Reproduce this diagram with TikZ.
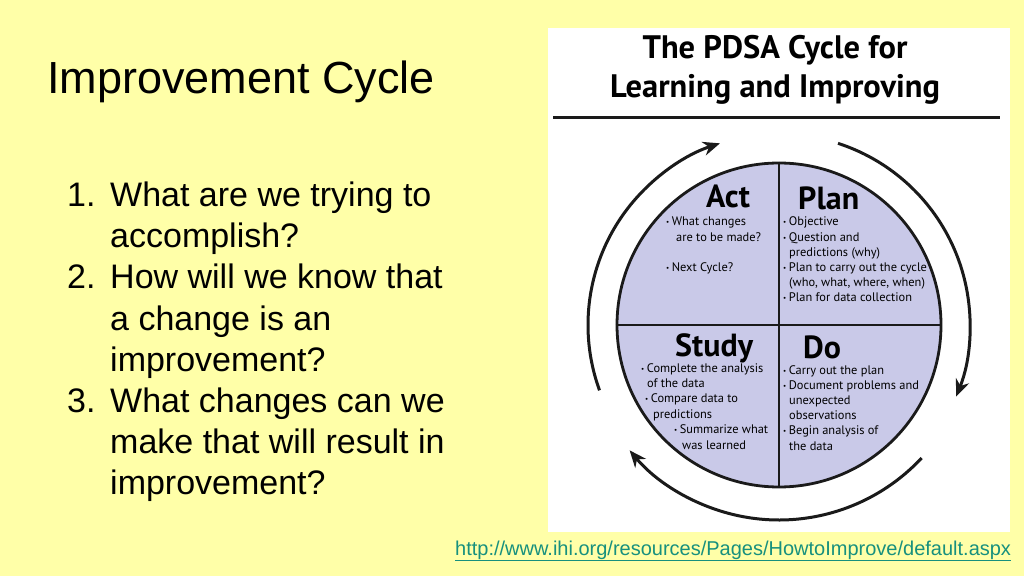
\documentclass[tikz,border=0pt]{standalone}
\usepackage{fontspec}
\setmainfont{Liberation Sans}
\newfontfamily\pdsafont{PT Sans}
\usetikzlibrary{arrows.meta}

\definecolor{slideyellow}{HTML}{FFFFA8}
\definecolor{wheelfill}{HTML}{C9C9E8}
\definecolor{linkteal}{HTML}{17907E}
\definecolor{inkdark}{HTML}{1A1A1A}

\newcommand{\pdsabullet}{\raisebox{1pt}{\fontsize{7}{7}\selectfont\textbullet}\hspace{2.5pt}}

\tikzset{
  listtext/.style={anchor=base west, inner sep=0pt, font=\fontsize{34}{41}\selectfont},
  pdsatitle/.style={anchor=base, inner sep=0pt, font={\pdsafont\bfseries\fontsize{32.5}{36}\selectfont}},
  pdsahead/.style={anchor=base west, inner sep=0pt, font={\pdsafont\bfseries\fontsize{32}{36}\selectfont}},
  pdsatext/.style={anchor=base west, inner sep=0pt, font={\pdsafont\fontsize{12.4}{15}\selectfont}},
  cyclearrow/.style={->, line width=3pt, draw=inkdark},
}

\begin{document}
\begin{tikzpicture}[x=1pt,y=1pt,>={Stealth[length=17pt,width=14pt]}]

% slide background and white picture frame
\fill[slideyellow] (0,0) rectangle (1024,576);
\useasboundingbox (0,0) rectangle (1024,576);
\fill[white] (548,44) rectangle (1010,548);

% slide title
\node[anchor=base west, inner sep=0pt, font=\fontsize{45}{54}\selectfont] (title) at (47,482) {Improvement Cycle};

% the three questions
\foreach \txt [count=\i] in {What are we trying to, accomplish?, How will we know that,
    a change is an, improvement?, What changes can we, make that will result in, improvement?}
  \node[listtext] (line\i) at (110,{369-41*(\i-1)}) {\txt};
\node[listtext] (num1) at (67,369) {1.};
\node[listtext] (num2) at (67,287) {2.};
\node[listtext] (num3) at (67,164) {3.};

% source link
\node[anchor=base west, inner sep=0pt, font=\fontsize{20}{24}\selectfont, text=linkteal] (url) at (455,21)
  {\underline{http://www.ihi.org/resources/Pages/HowtoImprove/default.aspx}};

% picture header
\node[pdsatitle] (head1) at (775,517) {The PDSA Cycle for};
\node[pdsatitle] (head2) at (775,478) {Learning and Improving};
\draw[line width=3pt, inkdark] (553,458) -- (1000,458);

% the wheel and its quarters
\node[circle, draw=inkdark, line width=2.8pt, fill=wheelfill, minimum size=324pt, inner sep=0pt] (wheel) at (779,251) {};
\draw[line width=2.8pt, inkdark] (wheel.north) -- (wheel.south);
\draw[line width=2.8pt, inkdark] (wheel.west) -- (wheel.east);

% cycle arrows round the wheel
\draw[cyclearrow] ([shift={(200:191)}]wheel.center) arc[start angle=200, end angle=108, radius=191];
\draw[cyclearrow] ([shift={(72:191)}]wheel.center) arc[start angle=72, end angle=-22, radius=191];
\draw[cyclearrow] ([shift={(-43:195)}]wheel.center) arc[start angle=-43, end angle=-140, radius=195];

% quarter headings
\node[pdsahead] (act) at (706,368) {Act};
\node[pdsahead] (plan) at (798,366) {Plan};
\node[pdsahead] (study) at (675,220) {Study};
\node[pdsahead] (do) at (803,218) {Do};

% Act
\foreach \dx/\txt [count=\i] in {0/{\pdsabullet What changes}, 10/{are to be made?}, 0/{}, 0/{\pdsabullet Next Cycle?}}
  \node[pdsatext] (act\i) at ({666+\dx},{350-15.3*(\i-1)}) {\txt};

% Plan
\foreach \dx/\txt [count=\i] in {0/{\pdsabullet Objective}, 0/{\pdsabullet Question and}, 6/{predictions (why)},
    0/{\pdsabullet Plan to carry out the cycle}, 6/{(who, what, where, when)}, 0/{\pdsabullet Plan for data collection}}
  \node[pdsatext] (plan\i) at ({783+\dx},{350-15.2*(\i-1)}) {\txt};

% Study
\foreach \dx/\txt [count=\i] in {0/{\pdsabullet Complete the analysis}, 6/{of the data}, 4/{\pdsabullet Compare data to},
    12/{predictions}, 33/{\pdsabullet Summarize what}, 41/{was learned}}
  \node[pdsatext] (study\i) at ({641+\dx},{204-15.4*(\i-1)}) {\txt};

% Do
\foreach \dx/\txt [count=\i] in {0/{\pdsabullet Carry out the plan}, 0/{\pdsabullet Document problems and}, 6/{unexpected},
    6/{observations}, 0/{\pdsabullet Begin analysis of}, 6/{the data}}
  \node[pdsatext] (do\i) at ({783+\dx},{202-15.2*(\i-1)}) {\txt};

\end{tikzpicture}
\end{document}
